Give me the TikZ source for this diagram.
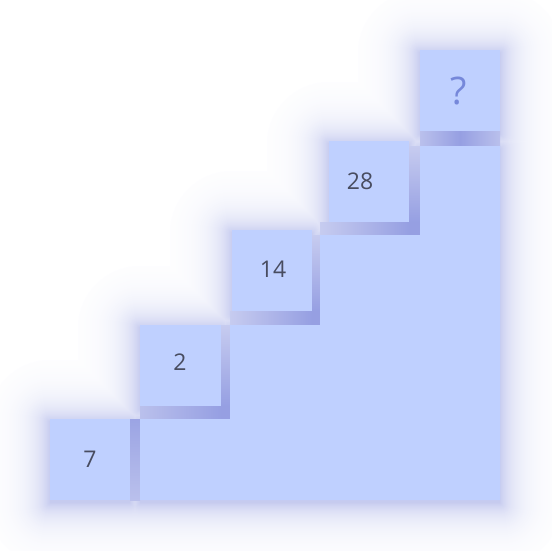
\documentclass[tikz,border=0pt]{standalone}
\usepackage{fontspec}
\setmainfont{Open Sans}
\definecolor{boxfill}{RGB}{191,208,255}
\definecolor{shc}{RGB}{98,112,212}
\definecolor{txt}{RGB}{72,76,96}
\definecolor{qtxt}{RGB}{118,136,218}
\colorlet{gapdark}{shc!67!white}
\colorlet{gaplight}{shc!44!white}
\colorlet{gapedge}{shc!36!white}
\tikzset{
  numtext/.style={text=txt, font=\fontsize{23}{28}\selectfont},
  qtext/.style={text=qtxt, font=\fontsize{38}{44}\selectfont},
  boxshape/.style={fill=boxfill, draw=none},
}
\def\stairpath{(140,500)--(140,419)--(230,419)--(230,325)--(320,325)--(320,235)--(420,235)--(420,146)--(500,146)--(500,500)--cycle}
\def\boxA{(50,419) rectangle (130,500)}
\def\boxB{(140,325) rectangle (221,406)}
\def\boxC{(232,230) rectangle (312,311)}
\def\boxD{(329,141) rectangle (409,222)}
\def\boxE{(420,50) rectangle (500,131)}
\begin{document}
\begin{tikzpicture}[x=1pt,y=-1pt]
\useasboundingbox (0,0) rectangle (551,551);
\fill[white] (0,0) rectangle (551,551);
% soft glow: opaque contour layers, outermost first
\begin{scope}[yshift=-3pt]
\foreach \r in {62,61,...,1}{
  \pgfmathsetmacro\pp{36*exp(-\r/18)}
  \draw[draw={shc!\pp!white}, line width=2*\r pt, line join=round]
    \stairpath \boxA \boxB \boxC \boxD \boxE;
}
\fill[gapedge] \stairpath \boxA \boxB \boxC \boxD \boxE;
\end{scope}
% darker channels between the boxes and the steps
\shade[top color=gapdark!85!gaplight, bottom color=gaplight] (130,419) rectangle (140,500);
% under box 2 / right of box 2
\shade[left color=gaplight, right color=gapdark] (140,406) rectangle (221,419);
\fill[gapdark] (221,406) rectangle (230,419);
\shade[top color=gapedge, bottom color=gapdark] (221,325) rectangle (230,406);
% under box 14 / right of box 14
\shade[left color=gapedge, right color=gapdark] (230,311) rectangle (312,325);
\fill[gapdark] (312,311) rectangle (320,325);
\shade[top color=gapedge, bottom color=gapdark] (312,235) rectangle (320,311);
% under box 28 / right of box 28
\shade[left color=gapedge, right color=gapdark] (320,222) rectangle (409,235);
\fill[gapdark] (409,222) rectangle (420,235);
\shade[top color=gapedge, bottom color=gapdark] (409,146) rectangle (420,222);
% under the question box
\shade[left color=gaplight, right color=gapdark] (420,131) rectangle (460,146);
\shade[left color=gapdark, right color=gaplight] (460,131) rectangle (500,146);
% shapes
\fill[boxshape] \stairpath;
\fill[boxshape] \boxA;
\fill[boxshape] \boxB;
\fill[boxshape] \boxC;
\fill[boxshape] \boxD;
\fill[boxshape] \boxE;
% labels
\node[numtext] (n7) at (90,459) {7};
\node[numtext] (n2) at (180,362) {2};
\node[numtext] (n14) at (273,269) {14};
\node[numtext] (n28) at (360,181) {28};
\node[qtext] (nq) at (459,91) {?};
\end{tikzpicture}
\end{document}
